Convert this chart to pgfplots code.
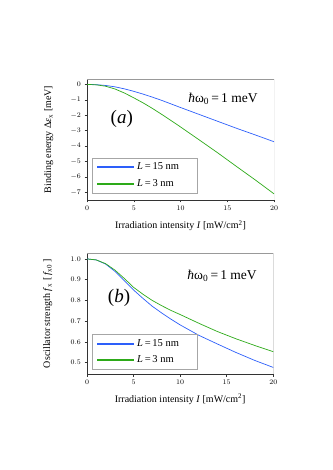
\documentclass[border=0pt]{standalone}
\usepackage{fontspec}
\setmainfont{Liberation Serif}
\usepackage{pgfplots}
\pgfplotsset{compat=1.18}

\definecolor{cblue}{RGB}{45,95,250}
\definecolor{cgreen}{RGB}{45,170,25}

\pgfplotsset{
  panel/.style={
    scale only axis,
    axis lines*=left,
    axis line style={black!80, line width=0.6pt},
    tick align=outside,
    tick style={black!80, line width=0.5pt},
    major tick length=2.5pt,
    xmin=0, xmax=20,
    xtick={0,5,10,15,20},
    tick label style={font=\fontsize{7.5}{8}\selectfont},
    label style={font=\fontsize{10}{12}\selectfont},
    xlabel={Irradiation intensity \textit{I} [mW/cm\textsuperscript{2}]},
    legend cell align=left,
    legend style={draw=black!35, fill=white, font=\fontsize{10.5}{12}\selectfont,
      row sep=4pt, inner xsep=4pt, inner ysep=3pt, anchor=south west},
    legend image code/.code={\draw[#1, line width=2pt] (0pt,0pt) -- (37pt,0pt);},
    every axis plot/.append style={line width=0.7pt, no marks},
  },
}
\newcommand{\Lentry}[1]{\makebox[54pt][l]{\textit{L}\,=\,#1 nm}}
\newcommand{\hw}{\textit{ħ}ω\textsubscript{0}\,=\,1 meV}

\begin{document}
\begin{tikzpicture}
\useasboundingbox (0,0) rectangle (332pt,470pt);

% panel (a)
\begin{axis}[panel,
  at={(87pt,270pt)}, anchor=south west,
  width=187pt, height=121pt,
  ymin=-7.5, ymax=0.35,
  ytick={0,-1,-2,-3,-4,-5,-6,-7},
  ylabel={Binding energy Δ\textit{ε}\textsubscript{x} [meV]},
  xlabel style={at={(axis description cs:0.5,-0.212)}, anchor=center},
  ylabel style={at={(axis description cs:-0.205,0.5)}, anchor=center},
  legend style={at={(rel axis cs:0.027,0.058)}},
]
\addplot[cblue] coordinates {
  (0,0) (1,-0.02) (2,-0.07) (3,-0.16) (4,-0.29) (5,-0.45) (6,-0.63)
  (7,-0.83) (8,-1.04) (9,-1.27) (10,-1.5) (12,-1.95) (14,-2.4)
  (16,-2.85) (18,-3.28) (20,-3.72)};
\addlegendentry{\Lentry{15}}
\addplot[cgreen] coordinates {
  (0,0) (1,-0.03) (2,-0.12) (3,-0.3) (4,-0.56) (5,-0.87) (6,-1.2)
  (7,-1.56) (8,-1.95) (9,-2.35) (10,-2.76) (12,-3.6) (14,-4.45)
  (16,-5.33) (18,-6.2) (20,-7.1)};
\addlegendentry{\Lentry{3}}
\draw[black!40, line width=0.6pt] (rel axis cs:0,1) -- (rel axis cs:1,1) -- (rel axis cs:1,0);
\node[font=\fontsize{19}{22}\selectfont] at (rel axis cs:0.186,0.669) {(\textit{a})};
\node[font=\fontsize{13.5}{15}\selectfont] at (rel axis cs:0.727,0.835) {\hw};
\end{axis}

% panel (b)
\begin{axis}[panel,
  at={(87pt,95.7pt)}, anchor=south west,
  width=186.3pt, height=121pt,
  ymin=0.444, ymax=1.027,
  ytick={0.5,0.6,0.7,0.8,0.9,1.0},
  yticklabel style={/pgf/number format/fixed, /pgf/number format/fixed zerofill, /pgf/number format/precision=1},
  ylabel={Oscillator strength \textit{f}\textsubscript{x} [\,\textit{f}\textsubscript{x0}\,]},
  xlabel style={at={(axis description cs:0.5,-0.204)}, anchor=center},
  ylabel style={at={(axis description cs:-0.211,0.5)}, anchor=center},
  legend style={at={(rel axis cs:0.027,0.04)}},
]
\addplot[cblue] coordinates {
  (0,1.0) (1,0.995) (2,0.975) (3,0.94) (4,0.895) (5,0.85) (6,0.81)
  (7,0.772) (8,0.74) (9,0.71) (10,0.682) (12,0.632) (14,0.59)
  (16,0.549) (18,0.511) (20,0.477)};
\addlegendentry{\Lentry{15}}
\addplot[cgreen] coordinates {
  (0,1.0) (1,0.995) (2,0.977) (3,0.946) (4,0.906) (5,0.863) (6,0.83)
  (7,0.8) (8,0.775) (9,0.752) (10,0.732) (12,0.69) (14,0.65)
  (16,0.615) (18,0.583) (20,0.553)};
\addlegendentry{\Lentry{3}}
\draw[black!40, line width=0.6pt] (rel axis cs:0,1) -- (rel axis cs:1,1) -- (rel axis cs:1,0);
\node[font=\fontsize{19}{22}\selectfont] at (rel axis cs:0.172,0.631) {(\textit{b})};
\node[font=\fontsize{13.5}{15}\selectfont] at (rel axis cs:0.725,0.813) {\hw};
\end{axis}
\end{tikzpicture}
\end{document}
